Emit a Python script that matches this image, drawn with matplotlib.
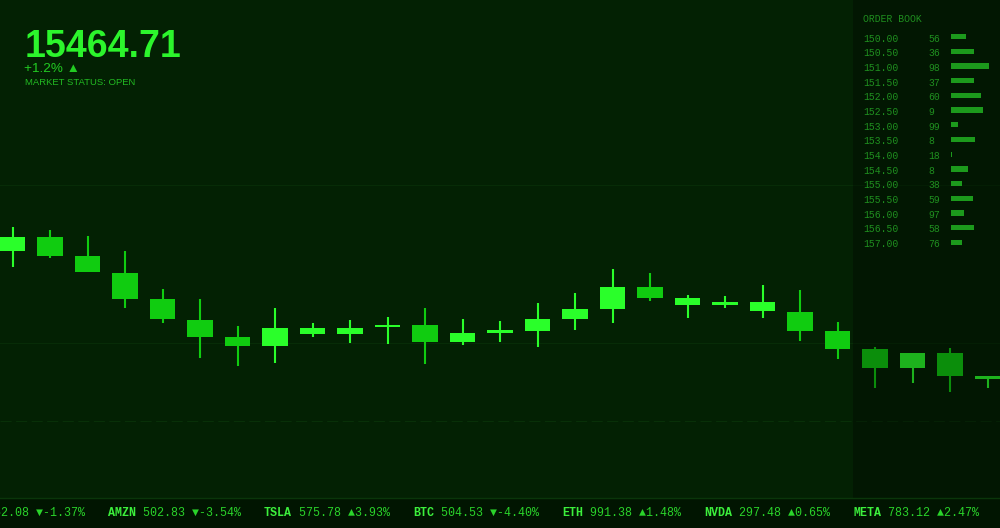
import matplotlib
matplotlib.use('Agg')
import matplotlib.pyplot as plt
from matplotlib.patches import Rectangle

# candle data (arbitrary price units)
opens  = [269, 283, 264, 247, 221, 200, 183, 174, 186, 186, 193, 195, 178, 187,
          189, 201, 211, 233, 215, 215, 209, 208, 189, 171, 152, 167, 141]
highs  = [293, 290, 284, 269, 231, 221, 194, 212, 197, 200, 203, 212, 201, 199,
          217, 227, 251, 247, 225, 224, 235, 230, 198, 173, 167, 172, 144]
lows   = [253, 262, 248, 212, 197, 162, 154, 157, 183, 177, 176, 156, 175, 178,
          173, 190, 197, 219, 202, 212, 202, 179, 161, 132, 137, 128, 132]
closes = [283, 264, 248, 221, 201, 183, 174, 192, 192, 192, 195, 178, 187, 190,
          201, 211, 233, 222, 222, 218, 218, 189, 171, 152, 167, 144, 144]

# header
last_price = '15464.71'
change_pct = '+1.2%'
market_status = 'OPEN'

# order book
ob_prices = ['150.00', '150.50', '151.00', '151.50', '152.00', '152.50', '153.00', '153.50',
             '154.00', '154.50', '155.00', '155.50', '156.00', '156.50', '157.00']
ob_qty = [56, 36, 98, 37, 60, 9, 99, 8, 18, 8, 38, 59, 97, 58, 76]
ob_depth = [15, 23, 38, 23, 30, 32, 7, 24, 0.8, 17, 11, 22, 13, 23, 11]

# ticker tape
tick_syms = ['AAPL', 'AMZN', 'TSLA', 'BTC', 'ETH', 'NVDA', 'META']
tick_prices = ['152.08', '502.83', '575.78', '504.53', '991.38', '297.48', '783.12']
tick_chg = [-1.37, -3.54, 3.93, -4.40, 1.48, 0.65, 2.47]

BG = '#032103'
UP = '#2aff2a'
DOWN = '#10cc10'
W, H = 1000, 528

fig = plt.figure(figsize=(10, 5.28), dpi=100, facecolor=BG)

# main candle axes, spans whole figure
ax = fig.add_axes([0, 0, 1, 1])
ax.set_facecolor(BG)
ax.set_xlim(-12.5 / 37.5, (W - 12.5) / 37.5)
ax.set_ylim(520 - H, 520)
ax.axis('off')

for y in [335, 177]:
    ax.axhline(y, color='#072c07', lw=0.8, zorder=1)
ax.axhline(99, color='#083008', lw=0.8, ls=(0, (10, 4)), zorder=1)

for i in range(len(opens)):
    o, h, l, c = opens[i], highs[i], lows[i], closes[i]
    col = UP if c >= o else DOWN
    ax.vlines(i, l, h, color=col, lw=1.5, zorder=2)
    lo = min(o, c)
    ht = max(abs(c - o), 2)
    ax.bar(i, ht, bottom=lo, width=0.667, color=col, zorder=3)

# order book panel darkens what is behind it
ax.add_patch(Rectangle((853 / W, 0), 1 - 853 / W, 1, transform=ax.transAxes,
                       color='black', alpha=0.3, lw=0, zorder=4))

# ticker strip
ax.add_patch(Rectangle((0, 0), 1, 30 / H, transform=ax.transAxes,
                       color='#011501', lw=0, zorder=5))
ax.plot([0, 1], [30 / H, 30 / H], transform=ax.transAxes, color='#0a360a', lw=1, zorder=6)

# order book axes: rows in index units
row0, step = 38.5, 14.68
ob = fig.add_axes([0, 0, 1, 1])
ob.patch.set_alpha(0)
ob.set_xlim(0, W)
ob.set_ylim((H - row0) / step, -row0 / step)
ob.axis('off')

ob_col = '#1f8f1f'
mono = ['Liberation Mono', 'DejaVu Sans Mono']
ob.text(863, (19 - row0) / step, 'ORDER BOOK', color=ob_col, fontsize=7, family=mono,
        va='center')
rows = list(range(len(ob_prices)))
for k in rows:
    ob.text(863, k, ob_prices[k], color=ob_col, fontsize=7, family=mono, va='center')
    ob.text(928, k, str(ob_qty[k]), color=ob_col, fontsize=7, family=mono, va='center')
ob.barh([k - 0.12 for k in rows], ob_depth, left=951, height=0.36, color='#1c9a1c')

# header text
def fy(py):
    return 1 - py / H

sans = ['Liberation Sans', 'DejaVu Sans']
fig.text(25 / W, fy(57), last_price, color='#2cf52c', fontsize=27, fontweight='bold',
         family=sans, va='baseline')
fig.text(24 / W, fy(72.5), change_pct + ' \u25B2', color='#22cc22', fontsize=9.7,
         family=sans, va='baseline')
fig.text(25 / W, fy(85.5), 'MARKET STATUS: ' + market_status, color='#22bb22', fontsize=6.8,
         family=sans, va='baseline')

# ticker tape text
cw = 6.95
gap = 24
x = 108 - 19 * cw - gap
for sym, pr, ch in zip(tick_syms, tick_prices, tick_chg):
    arrow = '\u25B2' if ch >= 0 else '\u25BC'
    rest = f'{pr} {arrow}{ch:.2f}%'
    fig.text(x / W, fy(513), sym, color='#3cf03c', fontsize=8.34, fontweight='bold',
             family=mono, va='center')
    fig.text((x + (len(sym) + 1) * cw) / W, fy(513), rest, color='#2ad42a', fontsize=8.34,
             family=mono, va='center')
    x += (len(sym) + 1 + len(rest)) * cw + gap

fig.savefig('out.png', dpi=100, facecolor=BG)
